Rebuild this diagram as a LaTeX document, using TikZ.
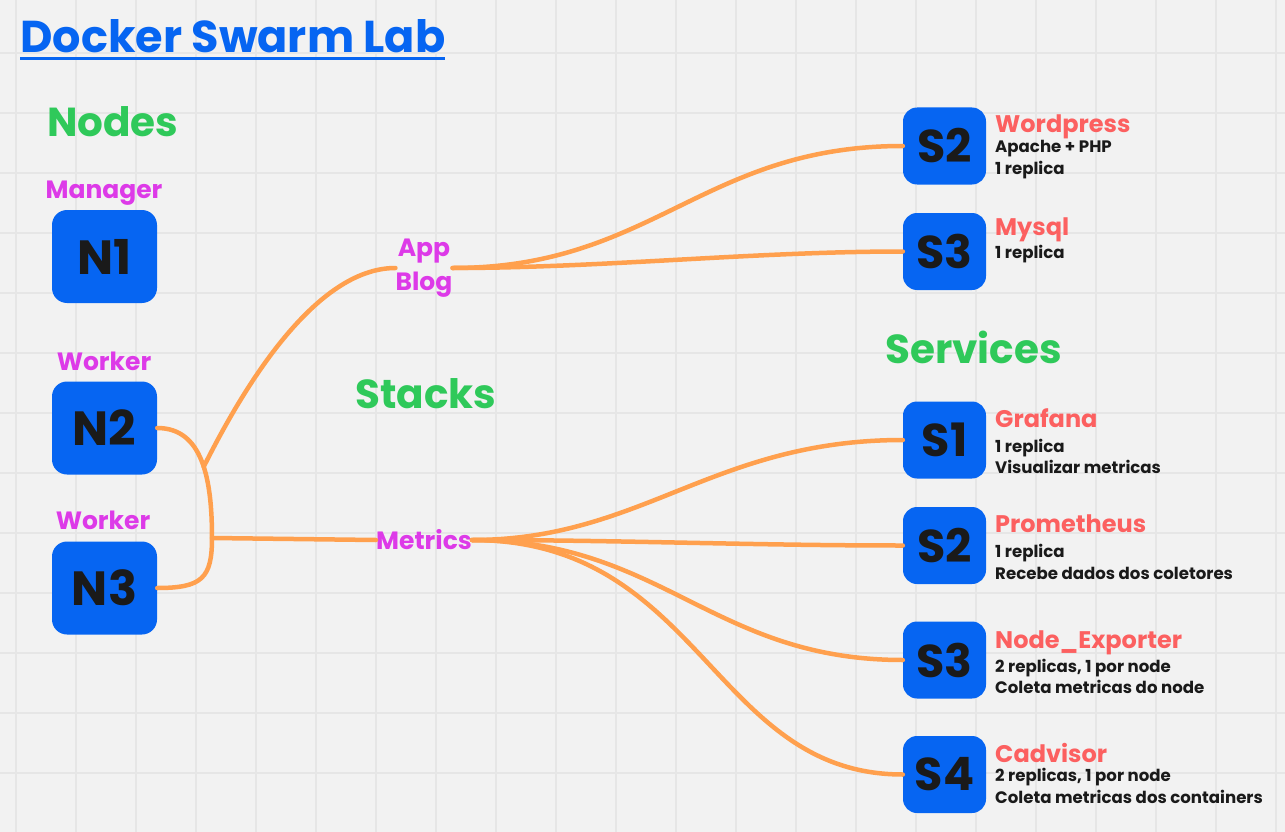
\documentclass[tikz,border=0pt]{standalone}
\usepackage{fontspec}
\setmainfont{Poppins}
\usepackage{tikz}
\usetikzlibrary{positioning,calc}

\definecolor{swarmblue}{HTML}{0665F2}
\definecolor{headgreen}{HTML}{2FC95A}
\definecolor{tagpink}{HTML}{DD3AE8}
\definecolor{svcred}{HTML}{FC6060}
\definecolor{linkorange}{HTML}{FFA04E}
\definecolor{inkblack}{HTML}{1A1A1A}
\definecolor{paper}{HTML}{F2F2F2}
\definecolor{gridgrey}{HTML}{E6E6E6}

\tikzset{
  host/.style={fill=swarmblue, rounded corners=15pt, inner sep=0pt,
    minimum width=105pt, minimum height=93pt, text=inkblack,
    font=\fontsize{48}{48}\selectfont\bfseries},
  svcbox/.style={fill=swarmblue, rounded corners=14pt, inner sep=0pt,
    minimum width=83pt, minimum height=77pt, text=inkblack,
    font=\fontsize{46}{46}\selectfont\bfseries},
  heading/.style={text=headgreen, inner sep=0pt, anchor=base west,
    font=\fontsize{40.5}{40.5}\selectfont\bfseries},
  tag/.style={text=tagpink, inner sep=0pt,
    font=\fontsize{25}{34}\selectfont\bfseries},
  svcname/.style={text=svcred, inner sep=0pt, anchor=base west,
    font=\fontsize{24}{24}\selectfont\bfseries},
  svcinfo/.style={text=inkblack, inner sep=0pt, anchor=base west,
    font=\fontsize{16.6}{16.6}\selectfont\bfseries},
  link/.style={draw=linkorange, line width=4.5pt, line cap=round}
}

\begin{document}
\begin{tikzpicture}[x=1pt, y=-1pt]
		% Background and grid
		\useasboundingbox (0,0) rectangle (1285,832);
		\fill[paper] (0,0) rectangle (1285,832);
		\foreach \x in {16,76,...,1276}
			\draw[gridgrey, line width=1.2pt] (\x,0) -- (\x,832);
		\foreach \y in {53,113,...,832}
			\draw[gridgrey, line width=1.2pt] (0,\y) -- (1285,\y);

		% Titles
		\node[text=swarmblue, inner sep=0pt, anchor=base west,
			font=\fontsize{44.6}{44.6}\selectfont\bfseries] (title) at (20,53) {Docker Swarm Lab};
		\draw[swarmblue, line width=3pt] (20,59) -- (445,59);
		\node[heading] (nodes) at (47,137) {Nodes};
		\node[heading] (stacks) at (355,408) {Stacks};
		\node[heading] (services) at (885,363) {Services};

		% Define nodes
		\node[host] (N1) at (104.5,256.5) {N1};
		\node[host] (N2) at (104.5,428) {N2};
		\node[host] (N3) at (104.5,588) {N3};
		\node[tag, anchor=base] at (104,198) {Manager};
		\node[tag, anchor=base] at (104,370) {Worker};
		\node[tag, anchor=base] at (103,529) {Worker};

		% Stacks
		\node[tag, align=center] (app) at (424,268) {App\\Blog};
		\node[tag] (metrics) at (424,540) {Metrics};
		\coordinate (junc) at (212,538);

		% Services
		\node[svcbox] (wp) at (944.5,146) {S2};
		\node[svcbox] (mysql) at (944.5,251.5) {S3};
		\node[svcbox] (grafana) at (944.5,440) {S1};
		\node[svcbox] (prom) at (944.5,545.5) {S2};
		\node[svcbox] (nodeexp) at (944.5,660) {S3};
		\node[svcbox] (cadv) at (944.5,774.5) {S4};

		\node[svcname] at (995,133) {Wordpress};
		\node[svcinfo] at (995,153) {Apache + PHP};
		\node[svcinfo] at (995,175) {1 replica};
		\node[svcname] at (995,235) {Mysql};
		\node[svcinfo] at (995,258) {1 replica};
		\node[svcname] at (995,427) {Grafana};
		\node[svcinfo] at (995,452) {1 replica};
		\node[svcinfo] at (995,473) {Visualizar metricas};
		\node[svcname] at (995,532) {Prometheus};
		\node[svcinfo] at (995,557) {1 replica};
		\node[svcinfo] at (995,579) {Recebe dados dos coletores};
		\node[svcname] at (995,648) {Node\_Exporter};
		\node[svcinfo] at (995,672) {2 replicas, 1 por node};
		\node[svcinfo] at (995,693) {Coleta metricas do node};
		\node[svcname] at (995,762) {Cadvisor};
		\node[svcinfo] at (995,781) {2 replicas, 1 por node};
		\node[svcinfo] at (995,803) {Coleta metricas dos containers};

		% Connect the nodes
		\draw[link] (N2.east) .. controls +(45,0) and +(0,-60) .. (junc)
			coordinate[pos=0.55] (fork);
		\draw[link] (N3.east) .. controls +(45,0) and +(0,40) .. (junc);
		\draw[link] (junc) -- (metrics.west);
		\draw[link] (fork) .. controls +(40,-80) and +(-80,0) .. (app.west);

		\draw[link] (app.east) .. controls +(200,0) and +(-200,0) .. (wp.west);
		\draw[link] (app.east) .. controls +(150,0) and +(-150,0) .. (mysql.west);
		\draw[link] (metrics.east) .. controls +(170,0) and +(-190,0) .. (grafana.west);
		\draw[link] (metrics.east) .. controls +(150,0) and +(-150,0) .. (prom.west);
		\draw[link] (metrics.east) .. controls +(190,0) and +(-190,0) .. (nodeexp.west);
		\draw[link] (metrics.east) .. controls +(230,0) and +(-190,0) .. (cadv.west);
	\end{tikzpicture}
\end{document}
